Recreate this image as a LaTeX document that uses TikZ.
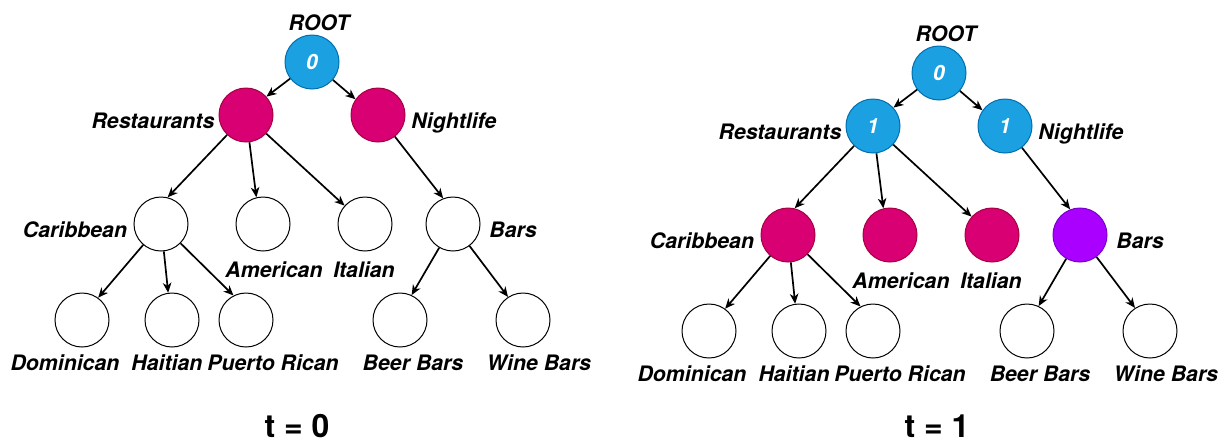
\documentclass[tikz,border=0pt]{standalone}
\usepackage{fontspec}
\setmainfont{TeX Gyre Heros}
\usetikzlibrary{arrows.meta}
\definecolor{dblue}{HTML}{1BA1E2}
\definecolor{dbluel}{HTML}{006EAF}
\definecolor{dmag}{HTML}{D80073}
\definecolor{dmagl}{HTML}{A50040}
\definecolor{dpur}{HTML}{AA00FF}
\definecolor{dpurl}{HTML}{7700CC}
\tikzset{
  vtx/.style={circle, minimum size=54pt, inner sep=0pt, line width=1pt},
  wht/.style={vtx, draw=black, fill=white},
  blu/.style={vtx, draw=dbluel, fill=dblue, text=white, font=\fontsize{21}{24}\selectfont\bfseries\itshape},
  mag/.style={vtx, draw=dmagl, fill=dmag},
  pur/.style={vtx, draw=dpurl, fill=dpur},
  lbl/.style={inner sep=0pt, anchor=base, font=\fontsize{21.3}{24}\selectfont\bfseries\itshape},
  ttl/.style={inner sep=0pt, anchor=base, font=\fontsize{32}{36}\selectfont\bfseries},
  edge/.style={line width=1.7pt, -{Stealth[length=10pt, width=8.5pt, inset=3pt]}}
}
% #1 prefix, #2 root style, #3 level-1 style, #4 level-1 text, #5 level-2 style, #6 bars style
\newcommand\mytree[6]{%
  \node[#2] (#1root) at (312,62) {0};
  \node[#3] (#1res) at (246,115) {#4};
  \node[#3] (#1nig) at (378,115) {#4};
  \node[#5] (#1car) at (161,224) {};
  \node[#5] (#1ame) at (263,224) {};
  \node[#5] (#1ita) at (365,224) {};
  \node[#6] (#1bar) at (453,224) {};
  \node[wht] (#1dom) at (82,320) {};
  \node[wht] (#1hai) at (172,320) {};
  \node[wht] (#1pue) at (246,320) {};
  \node[wht] (#1bee) at (400,320) {};
  \node[wht] (#1win) at (523,320) {};
  \node[lbl] (#1lroot) at (319,30) {ROOT};
  \node[lbl] (#1lres) at (153,128) {Restaurants};
  \node[lbl] (#1lnig) at (454,128) {Nightlife};
  \node[lbl] (#1lcar) at (75,237) {Caribbean};
  \node[lbl] (#1lbar) at (513,237) {Bars};
  \node[lbl] (#1lame) at (274,277) {American};
  \node[lbl] (#1lita) at (364,277) {Italian};
  \node[lbl] (#1ldom) at (65,370) {Dominican};
  \node[lbl] (#1lhai) at (167,370) {Haitian};
  \node[lbl] (#1lpue) at (273,370) {Puerto Rican};
  \node[lbl] (#1lbee) at (413,370) {Beer Bars};
  \node[lbl] (#1lwin) at (539,370) {Wine Bars};
  \draw[edge] (#1root) -- (#1res.42);
  \draw[edge] (#1root) -- (#1nig.145);
  \draw[edge] (#1res) -- (#1car.76);
  \draw[edge] (#1res) -- (#1ame.104);
  \draw[edge] (#1res) -- (#1ita.138);
  \draw[edge] (#1nig) -- (#1bar.111);
  \draw[edge] (#1car) -- (#1dom.54);
  \draw[edge] (#1car) -- (#1hai.98);
  \draw[edge] (#1car) -- (#1pue.117);
  \draw[edge] (#1bar) -- (#1bee.65);
  \draw[edge] (#1bar) -- (#1win.123);
}
\begin{document}
\begin{tikzpicture}[x=1pt, y=-1pt]
  \useasboundingbox (0,0) rectangle (1231,445);
  \fill[white] (0,0) rectangle (1231,445);
  \begin{scope}
    \mytree{a}{blu}{mag}{}{wht}{wht}
  \end{scope}
  \begin{scope}[shift={(627,11)}]
    \mytree{b}{blu}{blu}{1}{mag}{pur}
  \end{scope}
  \node[ttl] (t0) at (297,437) {t = 0};
  \node[ttl] (t1) at (937,437) {t = 1};
\end{tikzpicture}
\end{document}
